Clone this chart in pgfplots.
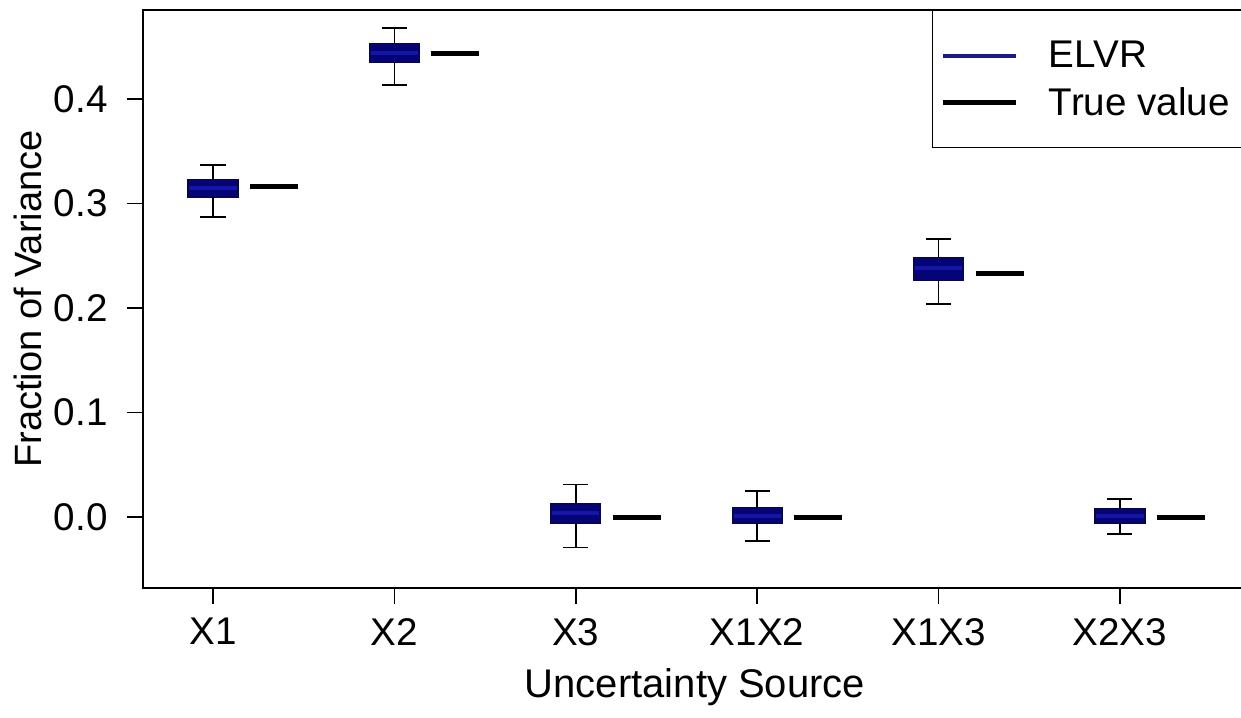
\documentclass[border=0pt]{standalone}
\usepackage{fontspec}
\setmainfont{Liberation Sans}
\usepackage{pgfplots}
\pgfplotsset{compat=1.18}
\definecolor{boxfill}{RGB}{4,4,118}
\definecolor{medcol}{RGB}{22,22,165}
\definecolor{boxdraw}{RGB}{8,8,60}
\definecolor{elvr}{RGB}{25,25,140}
\begin{document}
\begin{tikzpicture}
\begin{axis}[name=ax, scale only axis, width=553.5pt, height=289pt,
 xmin=0.614, xmax=6.717, ymin=-0.0679, ymax=0.485,
 axis line style={line width=1pt},
 tick align=outside, tick pos=left, major tick length=8pt,
 every tick/.style={black, line width=0.8pt},
 xtick={1,2,3,4,5,6}, xticklabels={X1,X2,X3,X1X2,X1X3,X2X3},
 ytick={0,0.1,0.2,0.3,0.4},
 yticklabel style={/pgf/number format/fixed, /pgf/number format/fixed zerofill, /pgf/number format/precision=1, /pgf/number format/assume math mode=true},
 tick label style={font=\fontsize{19.3}{22}\selectfont},
 xticklabel style={inner sep=0pt, yshift=-7pt},
 yticklabel style={inner sep=0pt, xshift=-9.5pt},
 xlabel={Uncertainty Source}, ylabel={Fraction of Variance},
 label style={inner sep=0pt},
 xlabel style={font=\fontsize{20}{22}\selectfont, at={(axis description cs:0.4986,-0.1384)}, anchor=north},
 ylabel style={font=\fontsize{19}{22}\selectfont, at={(axis description cs:-0.0912,0.5)}, anchor=south},
 legend style={at={(axis description cs:0.7127,1)}, anchor=north west, draw=black, line width=0.75pt,
   font=\fontsize{19.3}{22}\selectfont, inner xsep=4pt, inner ysep=10.75pt, row sep=0pt, column sep=0pt,
   nodes={inner sep=0pt, minimum height=23.5pt}},
 legend cell align=left,
 bx/.style={forget plot, draw=boxdraw, fill=boxfill, line width=0.6pt},
 md/.style={forget plot, medcol, line width=2pt},
 wk/.style={forget plot, black, line width=0.8pt},
 tv/.style={forget plot, black, line width=2.5pt},
]
% ELVR boxes (x-range of box, quartiles)
\addplot[bx] coordinates {(0.8625,0.306) (1.1375,0.306) (1.1375,0.323) (0.8625,0.323)} -- cycle;
\addplot[bx] coordinates {(1.8625,0.435) (2.1375,0.435) (2.1375,0.453) (1.8625,0.453)} -- cycle;
\addplot[bx] coordinates {(2.8625,-0.006) (3.1375,-0.006) (3.1375,0.013) (2.8625,0.013)} -- cycle;
\addplot[bx] coordinates {(3.8625,-0.006) (4.1375,-0.006) (4.1375,0.009) (3.8625,0.009)} -- cycle;
\addplot[bx] coordinates {(4.8625,0.226) (5.1375,0.226) (5.1375,0.248) (4.8625,0.248)} -- cycle;
\addplot[bx] coordinates {(5.8625,-0.006) (6.1375,-0.006) (6.1375,0.008) (5.8625,0.008)} -- cycle;
% medians
\addplot[md] coordinates {(0.87,0.315) (1.13,0.315)};
\addplot[md] coordinates {(1.87,0.444) (2.13,0.444)};
\addplot[md] coordinates {(2.87,0.004) (3.13,0.004)};
\addplot[md] coordinates {(3.87,0.001) (4.13,0.001)};
\addplot[md] coordinates {(4.87,0.238) (5.13,0.238)};
\addplot[md] coordinates {(5.87,0.001) (6.13,0.001)};
% whiskers: upper stem+cap, lower stem+cap
\addplot[wk] coordinates {(1,0.323) (1,0.337)};  \addplot[wk] coordinates {(0.931,0.337) (1.069,0.337)};
\addplot[wk] coordinates {(1,0.306) (1,0.287)};  \addplot[wk] coordinates {(0.931,0.287) (1.069,0.287)};
\addplot[wk] coordinates {(2,0.453) (2,0.468)};  \addplot[wk] coordinates {(1.931,0.468) (2.069,0.468)};
\addplot[wk] coordinates {(2,0.435) (2,0.413)};  \addplot[wk] coordinates {(1.931,0.413) (2.069,0.413)};
\addplot[wk] coordinates {(3,0.013) (3,0.031)};  \addplot[wk] coordinates {(2.931,0.031) (3.069,0.031)};
\addplot[wk] coordinates {(3,-0.006) (3,-0.029)};  \addplot[wk] coordinates {(2.931,-0.029) (3.069,-0.029)};
\addplot[wk] coordinates {(4,0.009) (4,0.025)};  \addplot[wk] coordinates {(3.931,0.025) (4.069,0.025)};
\addplot[wk] coordinates {(4,-0.006) (4,-0.023)};  \addplot[wk] coordinates {(3.931,-0.023) (4.069,-0.023)};
\addplot[wk] coordinates {(5,0.248) (5,0.266)};  \addplot[wk] coordinates {(4.931,0.266) (5.069,0.266)};
\addplot[wk] coordinates {(5,0.226) (5,0.204)};  \addplot[wk] coordinates {(4.931,0.204) (5.069,0.204)};
\addplot[wk] coordinates {(6,0.008) (6,0.017)};  \addplot[wk] coordinates {(5.931,0.017) (6.069,0.017)};
\addplot[wk] coordinates {(6,-0.006) (6,-0.016)};  \addplot[wk] coordinates {(5.931,-0.016) (6.069,-0.016)};
% True values
\addplot[tv] coordinates {(1.204,0.316) (1.469,0.316)};
\addplot[tv] coordinates {(2.204,0.443) (2.469,0.443)};
\addplot[tv] coordinates {(3.204,0) (3.469,0)};
\addplot[tv] coordinates {(4.204,0) (4.469,0)};
\addplot[tv] coordinates {(5.204,0.233) (5.469,0.233)};
\addplot[tv] coordinates {(6.204,0) (6.469,0)};
% legend
\addlegendimage{legend image code/.code={\draw[elvr, line width=2pt] (0pt,0pt) -- (36.5pt,0pt); \path (52.5pt,0pt);}}
\addlegendentry{\makebox[100pt][l]{ELVR}}
\addlegendimage{legend image code/.code={\draw[black, line width=2.5pt] (0pt,0pt) -- (36.5pt,0pt); \path (52.5pt,0pt);}}
\addlegendentry{\makebox[100pt][l]{True value}}
\end{axis}
\pgfresetboundingbox
\path ([xshift=-71.5pt,yshift=-64.5pt]ax.south west) rectangle ++(620.5pt,358.5pt);
\end{tikzpicture}
\end{document}
